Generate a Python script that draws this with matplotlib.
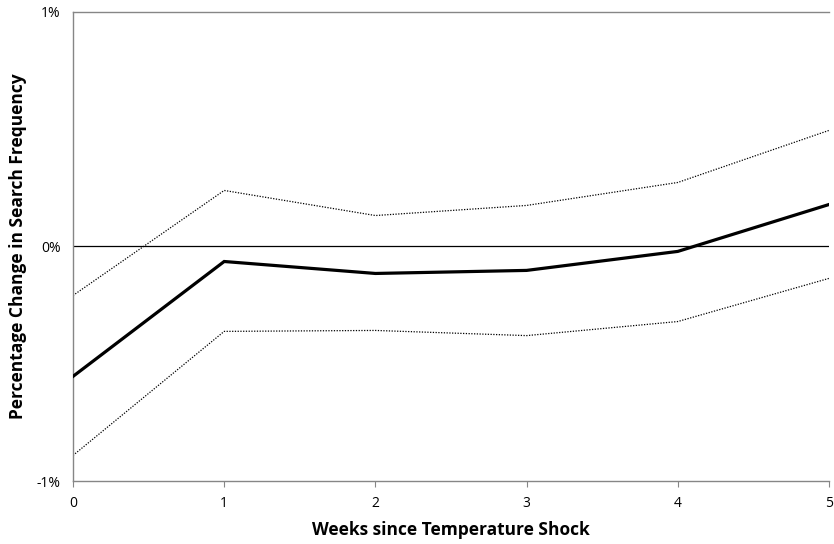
import matplotlib
matplotlib.use('Agg')
import matplotlib.pyplot as plt
from matplotlib.ticker import FuncFormatter

plt.rcParams['font.family'] = ['Open Sans', 'DejaVu Sans']

# impulse response of search frequency (in percent) with 95% bands
weeks = [0, 1, 2, 3, 4, 5]
estimate = [-0.554, -0.064, -0.115, -0.102, -0.021, 0.179]
upper = [-0.209, 0.239, 0.132, 0.175, 0.273, 0.495]
lower = [-0.891, -0.362, -0.358, -0.380, -0.320, -0.136]

fig = plt.figure(figsize=(8.34, 5.44), dpi=100)
ax = fig.add_axes([0.0875, 0.1158, 0.9065, 0.8622])

ax.axhline(0, color='black', lw=0.9, zorder=1)
ax.plot(weeks, upper, color='black', lw=0.9, ls=(0, (1, 1.2)), zorder=2)
ax.plot(weeks, lower, color='black', lw=0.9, ls=(0, (1, 1.2)), zorder=2)
ax.plot(weeks, estimate, color='black', lw=2.3, solid_joinstyle='miter', zorder=3)

ax.set_xlim(0, 5)
ax.set_ylim(-1, 1)
ax.set_xticks(weeks)
ax.set_yticks([-1, 0, 1])
ax.yaxis.set_major_formatter(FuncFormatter(lambda v, p: '%d%%' % v))

for side in ('top', 'left', 'bottom'):
    ax.spines[side].set_color('#868686')
    ax.spines[side].set_linewidth(1.0)
ax.spines['right'].set_visible(False)
ax.tick_params(axis='x', length=4, color='#868686', labelsize=10, pad=7)
ax.tick_params(axis='y', length=0, labelsize=10, pad=9)

ax.set_xlabel('Weeks since Temperature Shock', fontsize=12.5, fontweight='bold', labelpad=7)
ax.set_ylabel('Percentage Change in Search Frequency', fontsize=12.5, fontweight='bold', labelpad=7)

fig.savefig('out.png', dpi=100)
